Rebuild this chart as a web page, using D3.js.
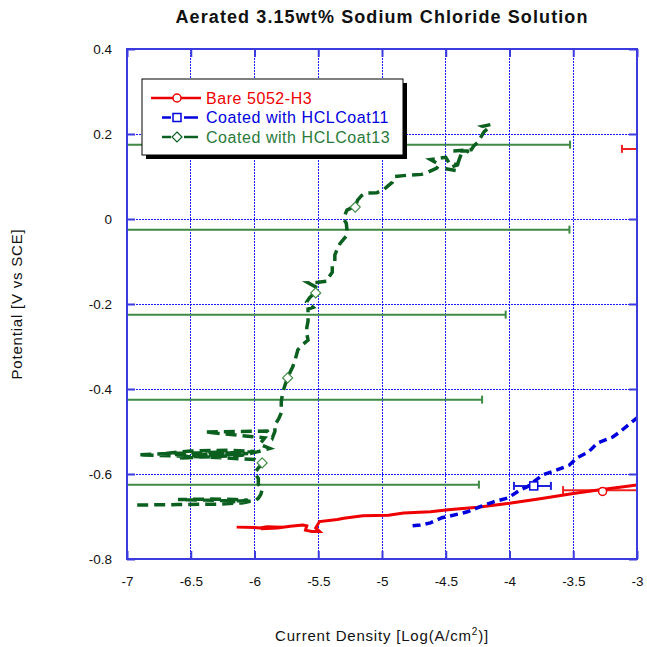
<!DOCTYPE html>
<html>
<head>
<meta charset="utf-8">
<script src="https://cdn.jsdelivr.net/npm/d3@7"></script>
<style>
  html, body { margin: 0; padding: 0; background: #fff; }
  svg { display: block; font-family: "Liberation Sans", Arial, sans-serif; }
</style>
</head>
<body>
<svg id="chart" width="647" height="647"></svg>
<script>
// Polarization scans: [log current density, potential vs SCE]
const bareCurve = [
  [-6.14,-0.725],[-6.0,-0.726],[-5.96,-0.727],[-5.9,-0.724],[-5.78,-0.725],[-5.95,-0.729],
  [-5.82,-0.727],[-5.72,-0.723],[-5.62,-0.720],[-5.59,-0.722],[-5.6,-0.732],[-5.55,-0.735],
  [-5.49,-0.735],[-5.52,-0.727],[-5.49,-0.712],[-5.35,-0.707],[-5.3,-0.704],[-5.15,-0.698],
  [-4.95,-0.697],[-4.83,-0.692],[-4.62,-0.689],[-4.48,-0.684],[-4.25,-0.678],[-4.0,-0.669],
  [-3.76,-0.658],[-3.5,-0.646],[-3.29,-0.637],[-3.15,-0.632],[-3.0,-0.626]
];
const coat11Curve = [
  [-4.76,-0.722],[-4.70,-0.720],[-4.62,-0.715],[-4.53,-0.703],[-4.47,-0.699],[-4.33,-0.689],
  [-4.23,-0.677],[-4.13,-0.666],[-4.01,-0.656],[-3.92,-0.638],[-3.86,-0.630],[-3.74,-0.602],
  [-3.66,-0.594],[-3.53,-0.579],[-3.47,-0.562],[-3.38,-0.548],[-3.31,-0.527],[-3.19,-0.513],
  [-3.13,-0.500],[-3.07,-0.485],[-3.0,-0.468]
];
const coat13Curve = [
  [-6.92,-0.673],[-6.6,-0.672],[-6.3,-0.671],[-6.1,-0.668],[-6.02,-0.664],
  [-6.6,-0.660],[-6.35,-0.659],[-6.15,-0.660],[-6.05,-0.662],[-6.2,-0.666],[-6.0,-0.664],[-5.97,-0.657],
  [-5.95,-0.648],[-5.94,-0.636],[-5.97,-0.624],[-5.97,-0.610],[-6.0,-0.598],[-5.97,-0.586],[-5.94,-0.576],
  [-6.0,-0.566],[-6.25,-0.562],[-6.55,-0.558],[-6.91,-0.555],[-6.6,-0.551],[-6.3,-0.549],[-6.05,-0.552],
  [-6.4,-0.556],[-6.75,-0.553],[-6.5,-0.546],[-6.2,-0.544],[-6.0,-0.547],[-6.35,-0.553],[-6.6,-0.563],
  [-6.4,-0.560],[-6.1,-0.556],[-5.98,-0.548],[-5.88,-0.540],[-5.96,-0.530],[-5.92,-0.515],
  [-6.39,-0.501],[-6.1,-0.500],[-5.9,-0.499],[-5.86,-0.515],[-5.84,-0.500],[-5.84,-0.485],
  [-5.81,-0.470],[-5.79,-0.456],[-5.79,-0.430],[-5.78,-0.410],[-5.76,-0.390],[-5.74,-0.374],
  [-5.72,-0.360],[-5.70,-0.348],[-5.68,-0.330],[-5.66,-0.308],[-5.62,-0.295],[-5.58,-0.285],
  [-5.59,-0.270],[-5.59,-0.256],[-5.58,-0.240],[-5.58,-0.226],[-5.58,-0.212],[-5.54,-0.208],
  [-5.59,-0.195],[-5.57,-0.186],[-5.53,-0.174],[-5.52,-0.160],[-5.58,-0.150],[-5.50,-0.149],
  [-5.43,-0.146],[-5.42,-0.138],[-5.39,-0.125],[-5.39,-0.110],[-5.37,-0.100],[-5.37,-0.085],
  [-5.35,-0.070],[-5.33,-0.058],[-5.28,-0.040],[-5.275,-0.025],[-5.28,-0.010],[-5.30,0.0],
  [-5.29,0.010],[-5.275,0.021],[-5.21,0.030],[-5.19,0.045],[-5.16,0.055],[-5.13,0.061],
  [-5.04,0.062],[-4.99,0.068],[-4.96,0.076],[-4.92,0.086],[-4.90,0.100],[-4.80,0.103],
  [-4.69,0.105],[-4.64,0.110],[-4.57,0.120],[-4.55,0.128],[-4.62,0.140],[-4.50,0.145],
  [-4.47,0.130],[-4.40,0.128],[-4.50,0.118],[-4.42,0.114],[-4.40,0.135],[-4.38,0.152],
  [-4.32,0.160],[-4.44,0.160],[-4.30,0.163],[-4.28,0.172],[-4.25,0.180],[-4.23,0.190],
  [-4.20,0.205],[-4.17,0.213],[-4.21,0.218],[-4.15,0.222]
];

// Symbols placed along each scan
const bareMarks = [[-3.27,-0.641]];
const coat11Marks = [[-3.81,-0.628]];
const coat13Marks = [[-5.94,-0.574],[-5.74,-0.374],[-5.52,-0.174],[-5.21,0.028]];

// Horizontal error bars: [low, high, potential]
const bareErrors = [[-3.58,-2.5,-0.638],[-3.118,-2.5,0.165]];
const coat11Errors = [[-3.965,-3.675,-0.628]];
const coat13Errors = [
  [-8,-3.525,0.175],[-8,-3.53,-0.025],[-8,-4.03,-0.225],[-8,-4.215,-0.425],[-8,-4.24,-0.625]
];

const seriesNames = ["Bare 5052-H3","Coated with HCLCoat11","Coated with HCLCoat13"];
const xTicks = [-7,-6.5,-6,-5.5,-5,-4.5,-4,-3.5,-3];
const yTicks = [0.4,0.2,0,-0.2,-0.4,-0.6,-0.8];
const titleText = "Aerated 3.15wt% Sodium Chloride Solution";
const xTitle = "Current Density [Log(A/cm";
const yTitle = "Potential [V vs SCE]";

const svg = d3.select("#chart");
const L = 127, R = 637, T = 49, B = 559;
const x = d3.scaleLinear().domain([-7,-3]).range([L,R]);
const y = d3.scaleLinear().domain([-0.8,0.4]).range([B,T]);

const frameColor = "#3b3be0";
const gridColor = "#1a1aff";
const crisp = v => Math.floor(v) + 0.5;

// grid
const grid = svg.append("g");
grid.selectAll("line.gx").data(xTicks.slice(1,-1)).join("line")
  .attr("x1", d => crisp(x(d))).attr("x2", d => crisp(x(d))).attr("y1", T).attr("y2", B)
  .attr("stroke", gridColor).attr("stroke-width", 1).attr("stroke-dasharray", "2,1");
grid.selectAll("line.gy").data(yTicks.slice(1,-1)).join("line")
  .attr("y1", d => crisp(y(d))).attr("y2", d => crisp(y(d))).attr("x1", L).attr("x2", R)
  .attr("stroke", gridColor).attr("stroke-width", 1).attr("stroke-dasharray", "2,1");

// clip for data
svg.append("clipPath").attr("id","plotClip").append("rect")
  .attr("x", L).attr("y", T).attr("width", R - L).attr("height", B - T);
const plot = svg.append("g").attr("clip-path","url(#plotClip)");

const line = d3.line().x(d => x(d[0])).y(d => y(d[1]));

const styles = [
  { color: "#ee0000", bar: "#ee2222", dash: null, width: 3, marker: "circle" },
  { color: "#0000dd", bar: "#2222dd", dash: "8,5", width: 3.5, marker: "square" },
  { color: "#0b6020", bar: "#3f8a45", dash: "11,6", width: 3.5, marker: "diamond" }
];
const curves = [bareCurve, coat11Curve, coat13Curve];
const marks = [bareMarks, coat11Marks, coat13Marks];
const errors = [bareErrors, coat11Errors, coat13Errors];

function drawMarker(g, type, cx, cy, color) {
  if (type === "circle") {
    g.append("circle").attr("cx", cx).attr("cy", cy).attr("r", 4)
      .attr("fill", "#fff").attr("stroke", color).attr("stroke-width", 1.5);
  } else if (type === "square") {
    g.append("rect").attr("x", cx - 4).attr("y", cy - 4).attr("width", 8).attr("height", 8)
      .attr("fill", "#fff").attr("stroke", color).attr("stroke-width", 1.5);
  } else {
    g.append("path").attr("d", `M${cx},${cy-5}L${cx+5},${cy}L${cx},${cy+5}L${cx-5},${cy}Z`)
      .attr("fill", "#fff").attr("stroke", color).attr("stroke-width", 1.2);
  }
}

// error bars
errors.forEach((errs, i) => {
  const st = styles[i];
  errs.forEach(e => {
    const yy = y(e[2]);
    plot.append("line").attr("x1", x(e[0])).attr("x2", x(e[1])).attr("y1", yy).attr("y2", yy)
      .attr("stroke", st.bar).attr("stroke-width", 2);
    [e[0], e[1]].forEach(v => {
      plot.append("line").attr("x1", x(v)).attr("x2", x(v)).attr("y1", yy - 4).attr("y2", yy + 4)
        .attr("stroke", st.bar).attr("stroke-width", 2);
    });
  });
});

// scans
curves.forEach((c, i) => {
  const st = styles[i];
  plot.append("path").datum(c).attr("d", line)
    .attr("fill", "none").attr("stroke", st.color).attr("stroke-width", st.width)
    .attr("stroke-linejoin", "miter").attr("stroke-linecap", "butt")
    .attr("stroke-dasharray", st.dash);
});

// markers
marks.forEach((m, i) => {
  const st = styles[i];
  m.forEach(p => drawMarker(plot, st.marker, x(p[0]), y(p[1]), i === 2 ? "#3f8a45" : st.color));
});

// frame
svg.append("rect").attr("x", L).attr("y", T).attr("width", R - L).attr("height", B - T)
  .attr("fill", "none").attr("stroke", frameColor).attr("stroke-width", 2);

// axes
const fmt = d => String(d);
const axB = svg.append("g").attr("transform", `translate(0,${B})`)
  .call(d3.axisBottom(x).tickValues(xTicks).tickFormat(fmt).tickSizeInner(-8).tickSizeOuter(0).tickPadding(17));
const axL = svg.append("g").attr("transform", `translate(${L},0)`)
  .call(d3.axisLeft(y).tickValues(yTicks).tickFormat(fmt).tickSizeInner(-8).tickSizeOuter(0).tickPadding(15));
const axT = svg.append("g").attr("transform", `translate(0,${T})`)
  .call(d3.axisTop(x).tickValues(xTicks).tickFormat("").tickSizeInner(-8).tickSizeOuter(0));
const axR = svg.append("g").attr("transform", `translate(${R},0)`)
  .call(d3.axisRight(y).tickValues(yTicks).tickFormat("").tickSizeInner(-8).tickSizeOuter(0));
[axB, axL, axT, axR].forEach(a => {
  a.select(".domain").remove();
  a.selectAll(".tick line").attr("stroke", frameColor).attr("stroke-width", 2);
  a.selectAll(".tick text").attr("fill", "#111").style("font-size", "13.5px")
    .style("font-family", "'Liberation Sans', Arial, sans-serif");
});

// titles
svg.append("text").attr("x", 382).attr("y", 23).attr("text-anchor", "middle")
  .style("font-size", "18px").style("font-weight", "bold").style("letter-spacing", "1.1px")
  .attr("fill", "#111").text(titleText);

const xt = svg.append("text").attr("x", 382).attr("y", 641).attr("text-anchor", "middle")
  .style("font-size", "15px").style("letter-spacing", "0.8px").attr("fill", "#111");
xt.append("tspan").text(xTitle);
xt.append("tspan").attr("dy", -6).style("font-size", "10px").text("2");
xt.append("tspan").attr("dy", 6).text(")]");

svg.append("text").attr("transform", "translate(22,304) rotate(-90)").attr("text-anchor", "middle")
  .style("font-size", "15px").style("letter-spacing", "0.8px").attr("fill", "#111").text(yTitle);

// legend
const lg = svg.append("g");
lg.append("rect").attr("x", 146).attr("y", 83).attr("width", 261).attr("height", 76).attr("fill", "#000");
lg.append("rect").attr("x", 142).attr("y", 79).attr("width", 261).attr("height", 76)
  .attr("fill", "#fff").attr("stroke", "#000").attr("stroke-width", 1);
seriesNames.forEach((name, i) => {
  const st = styles[i];
  const cy = 98 + i * 19.5;
  if (i === 0) {
    lg.append("line").attr("x1", 151).attr("x2", 201).attr("y1", cy).attr("y2", cy)
      .attr("stroke", st.color).attr("stroke-width", 2.5);
  } else {
    lg.append("line").attr("x1", 162).attr("x2", 171).attr("y1", cy).attr("y2", cy)
      .attr("stroke", st.color).attr("stroke-width", 2.5);
    lg.append("line").attr("x1", 184).attr("x2", 198).attr("y1", cy).attr("y2", cy)
      .attr("stroke", st.color).attr("stroke-width", 2.5);
  }
  drawMarker(lg, st.marker, 177, cy, st.color);
  lg.append("text").attr("x", 206).attr("y", cy + 5.5).style("font-size", "16px")
    .style("letter-spacing", "0.55px").attr("fill", i === 2 ? "#2a7a3a" : st.color).text(name);
});
</script>
</body>
</html>
